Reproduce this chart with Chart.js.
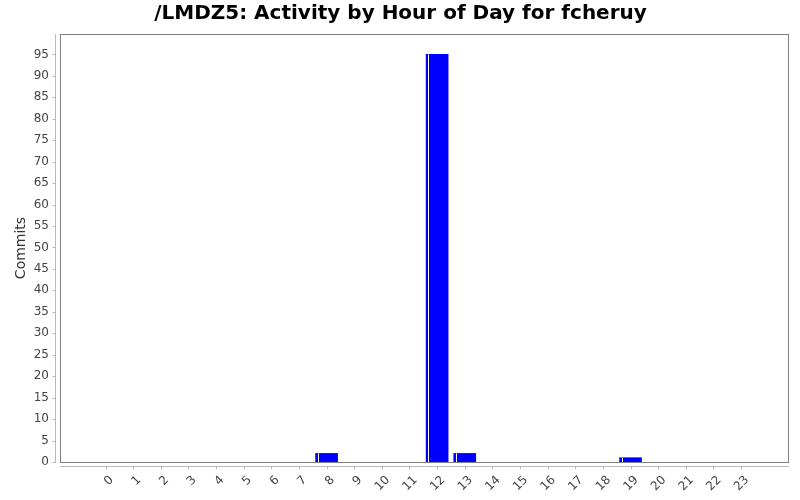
<!DOCTYPE html>
<html>
<head>
<meta charset="utf-8">
<script src="https://cdn.jsdelivr.net/npm/chart.js@4"></script>
<style>
html,body{margin:0;padding:0;background:#fff;}
#wrap{width:800px;height:500px;}
</style>
</head>
<body>
<div id="wrap"><canvas id="c" width="800" height="500"></canvas></div>
<script>
const chartTitle = '/LMDZ5: Activity by Hour of Day for fcheruy';
const yTitle = 'Commits';
const hours = ['0','1','2','3','4','5','6','7','8','9','10','11','12','13','14','15','16','17','18','19','20','21','22','23'];
const commits = [0,0,0,0,0,0,0,0,2,0,0,0,95,2,0,0,0,0,0,1,0,0,0,0];
const yTickStep = 5;

const axisPlugin = {
  id: 'axisPlugin',
  afterDatasetsDraw(chart) {
    const ctx = chart.ctx;
    const meta = chart.getDatasetMeta(0);
    ctx.save();
    ctx.strokeStyle = '#ffffff';
    ctx.lineWidth = 1;
    meta.data.forEach((bar, i) => {
      if (!commits[i]) return;
      const x = Math.round(bar.x - bar.width / 2) + 2.5;
      ctx.beginPath();
      ctx.moveTo(x, bar.y);
      ctx.lineTo(x, bar.base);
      ctx.stroke();
    });
    ctx.restore();
  },
  afterDraw(chart) {
    const ctx = chart.ctx;
    const a = chart.chartArea;
    const xs = chart.scales.x, ys = chart.scales.y;
    ctx.save();
    ctx.strokeStyle = '#808080';
    ctx.lineWidth = 1;
    ctx.strokeRect(Math.round(a.left) + 0.5, Math.round(a.top) + 0.5, Math.round(a.right - a.left), Math.round(a.bottom - a.top));
    ctx.strokeStyle = '#b8b8b8';
    const yx = Math.round(a.left) - 4.5;
    ctx.beginPath();
    ctx.moveTo(yx, a.top); ctx.lineTo(yx, a.bottom + 1);
    ys.ticks.forEach(t => {
      const py = Math.round(ys.getPixelForValue(t.value)) + 0.5;
      ctx.moveTo(yx - 3, py); ctx.lineTo(yx, py);
    });
    const xy = Math.round(a.bottom) + 4.5;
    ctx.moveTo(a.left, xy); ctx.lineTo(a.right + 1, xy);
    xs.ticks.forEach(t => {
      const px = Math.round(xs.getPixelForValue(t.value)) + 0.5;
      ctx.moveTo(px, xy); ctx.lineTo(px, xy + 3);
    });
    ctx.stroke();
    ctx.restore();
  }
};

new Chart(document.getElementById('c'), {
  type: 'bar',
  data: {
    datasets: [{
      data: hours.map((h, i) => ({ x: Number(h), y: commits[i] || null })),
      backgroundColor: '#0000ff',
      borderWidth: 0,
      barThickness: 22
    }]
  },
  options: {
    responsive: false,
    animation: false,
    devicePixelRatio: 1,
    layout: { padding: { left: 13, right: 12, top: 0, bottom: 0 } },
    plugins: {
      legend: { display: false },
      tooltip: { enabled: false },
      title: {
        display: true,
        text: chartTitle,
        color: '#000',
        font: { family: 'DejaVu Sans', size: 20, weight: 'bold' },
        padding: { top: 2, bottom: 8 }
      }
    },
    scales: {
      x: {
        type: 'linear',
        offset: false,
        min: -1.65,
        max: 24.7,
        grid: { display: false, drawTicks: false, tickLength: 0 },
        border: { display: false },
        afterBuildTicks(scale) { scale.ticks = hours.map(h => ({ value: Number(h) })); },
        afterFit(scale) { scale.height = 38; },
        ticks: {
          autoSkip: false,
          minRotation: 45,
          maxRotation: 45,
          padding: 11,
          labelOffset: 6,
          color: '#444',
          font: { family: 'DejaVu Sans', size: 12 },
          callback: (v) => hours[v]
        }
      },
      y: {
        min: 0,
        max: 99.75,
        grid: { display: false, drawTicks: false, tickLength: 0 },
        border: { display: false },
        afterBuildTicks(scale) { scale.ticks = scale.ticks.filter(t => t.value % yTickStep === 0); },
        afterFit(scale) { scale.width = 47; },
        title: {
          display: true,
          text: yTitle,
          color: '#333',
          font: { family: 'DejaVu Sans', size: 14 },
          padding: { top: 0, bottom: 0 }
        },
        ticks: {
          stepSize: yTickStep,
          padding: 11,
          color: '#444',
          font: { family: 'DejaVu Sans', size: 12 }
        }
      }
    }
  },
  plugins: [axisPlugin]
});
</script>
</body>
</html>
